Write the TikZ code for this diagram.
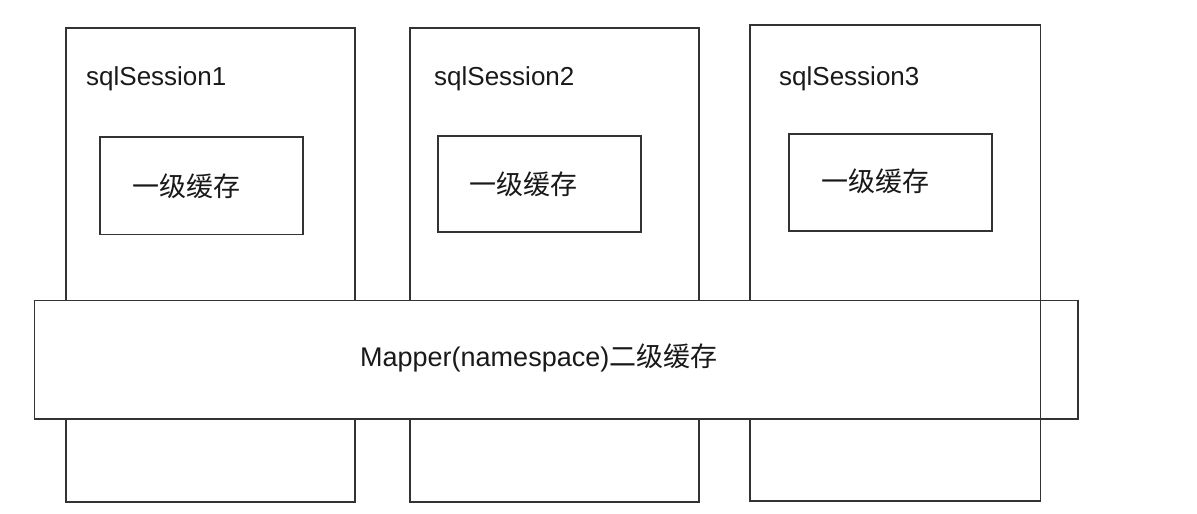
\documentclass[tikz,border=0pt]{standalone}
\usepackage{fontspec}
\setmainfont{Liberation Sans}
\newfontfamily\cjk{Noto Sans CJK SC}
\begin{document}
\begin{tikzpicture}[x=1pt,y=-1pt,
  box/.style={draw=black!80, line width=1.4pt, rectangle, inner sep=0pt, outer sep=0pt, anchor=north west},
  lat/.style={inner sep=0pt, anchor=base west, font=\fontsize{26}{30}\selectfont, text=black!90},
  han/.style={inner sep=0pt, anchor=base west, font=\cjk\fontsize{27}{31}\selectfont, text=black!90}]
\useasboundingbox (0,0) rectangle (1197,514);
% sessions
\node[box, minimum width=289pt, minimum height=474pt] (s1) at (66,28) {};
\node[box, minimum width=289pt, minimum height=474pt] (s2) at (410,28) {};
\node[box, minimum width=290.5pt, minimum height=476pt] (s3) at (750,25) {};
% first-level caches
\node[box, minimum width=203pt, minimum height=97.5pt] (c1) at (100,137) {};
\node[box, minimum width=203pt, minimum height=96pt] (c2) at (438,136) {};
\node[box, minimum width=203pt, minimum height=97pt] (c3) at (789,134) {};
% labels
\node[lat] (t1) at (86,85) {sqlSession1};
\node[lat] (t2) at (434,85) {sqlSession2};
\node[lat] (t3) at (779,85) {sqlSession3};
\node[han] (h1) at (132,196) {一级缓存};
\node[han] (h2) at (469,194) {一级缓存};
\node[han] (h3) at (821,191) {一级缓存};
% mapper
\node[box, fill=white, minimum width=1043.5pt, minimum height=118.5pt] (m) at (34.5,300.5) {};
\draw[draw=black!80, line width=1.4pt] (s3.north east) -- (s3.south east);
\node[lat, font=\fontsize{27}{31}\selectfont] (mt) at (360,366) {Mapper(namespace){\cjk 二级缓存}};
\end{tikzpicture}
\end{document}
